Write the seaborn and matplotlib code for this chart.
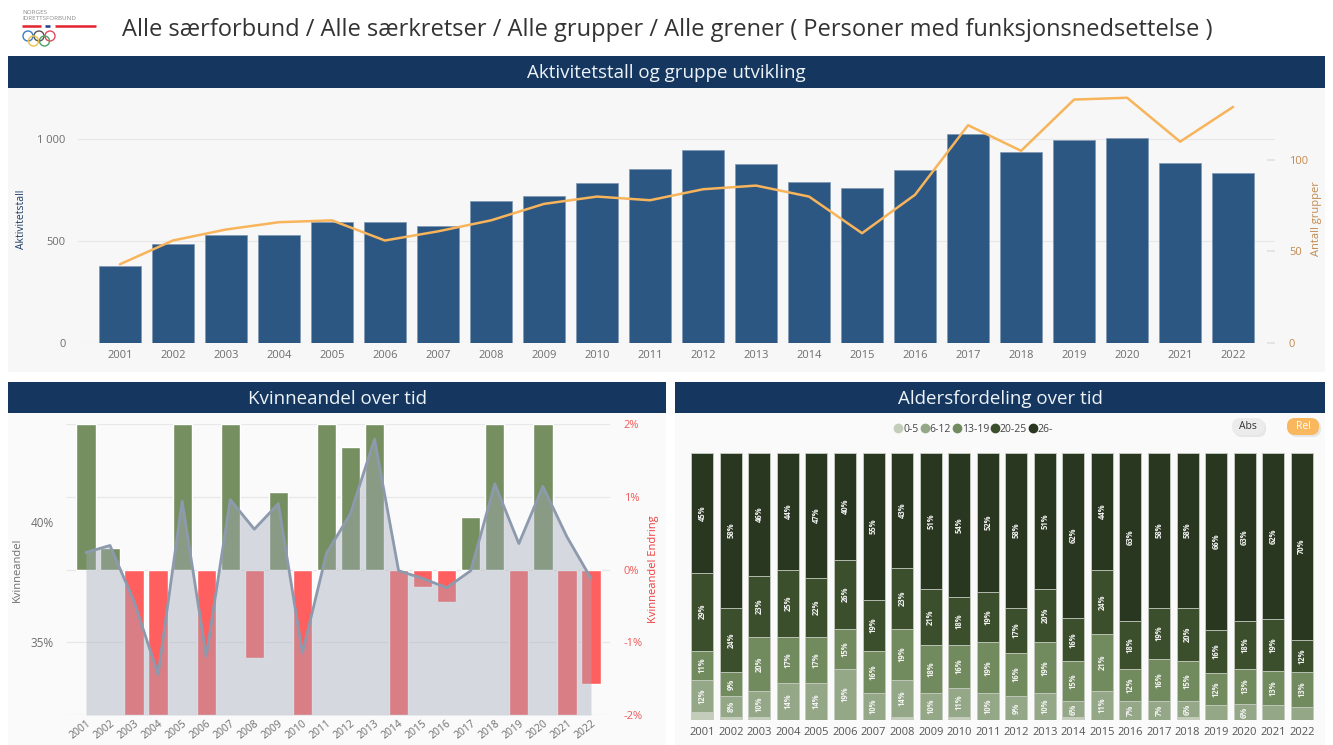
import numpy as np
import matplotlib
matplotlib.use("Agg")
import matplotlib.pyplot as plt
from matplotlib.patches import Rectangle, FancyBboxPatch, Circle
from matplotlib.lines import Line2D
import seaborn as sns

W, H = 1333, 745

# ------------------------------------------------------------------
# Data
# ------------------------------------------------------------------
years = [str(y) for y in range(2001, 2023)]

aktivitet = [380, 484, 528, 528, 592, 592, 574, 695, 721, 783, 852,
             946, 876, 791, 759, 847, 1024, 935, 995, 1007, 881, 832]
grupper = [43, 56, 62, 66, 67, 56, 61, 67, 76, 80, 78,
           84, 86, 80, 60, 81, 119, 105, 133, 134, 110, 129]

kvinneandel = [38.73, 39.02, 36.69, 33.65, 40.87, 34.41, 40.93, 39.70, 40.76, 34.54, 38.69,
               40.35, 43.45, 37.97, 37.65, 37.26, 37.97, 41.59, 39.10, 41.48, 39.38, 37.65]
endring = [2.0, 0.29, -2.0, -2.0, 2.0, -2.0, 2.0, -1.21, 1.06, -2.0, 2.0,
           1.68, 2.0, -2.0, -0.24, -0.44, 0.72, 2.0, -2.0, 2.0, -2.0, -1.57]

age_groups = ["0-5", "6-12", "13-19", "20-25", "26-"]
age_0_5 = [3, 1, 1, 0, 0, 0, 0, 1, 0, 1, 0, 0, 0, 1, 0, 0, 0, 1, 0, 0, 0, 0]
age_6_12 = [12, 8, 10, 14, 14, 19, 10, 14, 10, 11, 10, 9, 10, 6, 11, 7, 7, 6, 5.6, 6, 5.4, 5]
age_13_19 = [11, 9, 20, 17, 17, 15, 16, 19, 18, 16, 19, 16, 19, 15, 21, 12, 16, 15, 12, 13, 13, 13]
age_20_25 = [29, 24, 23, 25, 22, 26, 19, 23, 21, 18, 19, 17, 20, 16, 24, 18, 19, 20, 16, 18, 19, 12]
age_26 = [45, 58, 46, 44, 47, 40, 55, 43, 51, 54, 52, 58, 51, 62, 44, 63, 58, 58, 66, 63, 62, 70]
age_colors = ["#c3cdb9", "#94a887", "#728b5e", "#3b4f2c", "#2a3720"]

NAVY = "#15375f"
GRID = "#e8e8e8"
TICK = "#6e6e6e"

sns.set_theme(style="white")
plt.rcParams["font.family"] = ["Open Sans", "DejaVu Sans"]


def px_axes(fig, x0, y0, x1, y1):
    return fig.add_axes([x0 / W, 1 - y1 / H, (x1 - x0) / W, (y1 - y0) / H])


# ------------------------------------------------------------------
# Page frame: backgrounds, headers, logo, title
# ------------------------------------------------------------------
def draw_frame(fig):
    bg = fig.add_axes([0, 0, 1, 1], zorder=-5)
    bg.set_xlim(0, W); bg.set_ylim(H, 0); bg.axis("off")

    # panel bodies
    bg.add_patch(Rectangle((8, 88), 1317, 284, color="#f7f7f7", lw=0))
    bg.add_patch(Rectangle((8, 413), 658, 332, color="#fafafa", lw=0))
    bg.add_patch(Rectangle((675, 413), 650, 332, color="#fafafa", lw=0))

    # headers
    for (x, y, w, h, txt) in [(8, 56, 1317, 32, "Aktivitetstall og gruppe utvikling"),
                              (8, 382, 658, 31, "Kvinneandel over tid"),
                              (675, 382, 650, 31, "Aldersfordeling over tid")]:
        bg.add_patch(Rectangle((x, y), w, h, color=NAVY, lw=0))
        bg.text(x + w / 2, y + h / 2 + 1, txt, color="#eef3f8", fontsize=13.5,
                ha="center", va="center")

    # title
    bg.text(122, 30, "Alle særforbund / Alle særkretser / Alle grupper / Alle grener "
            "( Personer med funksjonsnedsettelse )", fontsize=17, color="#333333",
            ha="left", va="center")

    # logo
    bg.text(22, 13, "NORGES", fontsize=4.5, color="#8a8a8a", va="center")
    bg.text(22, 19, "IDRETTSFORBUND", fontsize=4.5, color="#8a8a8a", va="center")
    bg.plot([22, 41], [26, 26], color="#e3232f", lw=1.8, solid_capstyle="butt")
    bg.plot([45, 50], [26, 26], color="#1e3f8a", lw=1.8, solid_capstyle="butt")
    bg.plot([55, 96], [26, 26], color="#e3232f", lw=1.8, solid_capstyle="butt")
    for (cx, cy, c) in [(28, 36, "#3b7ec8"), (39, 36, "#555555"), (50, 36, "#e24a5c"),
                        (33.5, 41, "#f1c14c"), (44.5, 41, "#4aa36a")]:
        bg.add_patch(Circle((cx, cy), 5, fill=False, ec=c, lw=1.0))

    # Abs / Rel buttons
    bg.add_patch(FancyBboxPatch((1234, 420), 32, 17, boxstyle="round,pad=0,rounding_size=8",
                                fc="#d9d9d9", ec="none", alpha=0.6))
    bg.add_patch(FancyBboxPatch((1232, 418), 32, 17, boxstyle="round,pad=0,rounding_size=8",
                                fc="#ececec", ec="none"))
    bg.text(1248, 426.5, "Abs", fontsize=7.5, color="#333333", ha="center", va="center")
    bg.add_patch(FancyBboxPatch((1289, 420), 32, 17, boxstyle="round,pad=0,rounding_size=8",
                                fc="#d9d9d9", ec="none", alpha=0.6))
    bg.add_patch(FancyBboxPatch((1287, 418), 32, 17, boxstyle="round,pad=0,rounding_size=8",
                                fc="#f9b75e", ec="none"))
    bg.text(1303, 426.5, "Rel", fontsize=7.5, color="white", ha="center", va="center")


# ------------------------------------------------------------------
# Top: activity bars + number of groups line
# ------------------------------------------------------------------
def draw_activity(fig):
    ax = px_axes(fig, 78, 95, 1275, 343)
    ax.set_facecolor("none")
    sns.barplot(x=years, y=aktivitet, color="#2c5783", width=0.8, saturation=1,
                edgecolor="#7f97b3", linewidth=0.5, ax=ax)
    ax.set_xlim(-0.79, 21.79)
    ax.set_ylim(0, 1216)
    ax.set_yticks([0, 500, 1000])
    ax.set_yticklabels(["0", "500", "1 000"])
    ax.yaxis.grid(True, color=GRID, lw=0.9)
    ax.set_axisbelow(True)
    sns.despine(ax=ax, left=True, bottom=True)
    ax.tick_params(axis="both", length=0, labelsize=8, labelcolor=TICK)
    ax.tick_params(axis="y", pad=9)
    ax.tick_params(axis="x", pad=5)
    ax.set_xlabel("")
    ax.set_ylabel("Aktivitetstall", fontsize=7.5, color="#1f3b63")
    ax.yaxis.set_label_coords(-0.043, 0.5)

    ax2 = ax.twinx()
    sns.lineplot(x=np.arange(len(years)), y=grupper, color="#f7b45a", lw=1.8, ax=ax2)
    ax2.set_ylim(0, 135.5)
    ax2.set_yticks([0, 50, 100])
    ax2.grid(False)
    for s in ax2.spines.values():
        s.set_visible(False)
    ax2.tick_params(axis="y", direction="in", length=6, color="#e2e2e2",
                    labelsize=8, labelcolor="#c08a4f", pad=10)
    ax2.set_ylabel("Antall grupper", fontsize=8, color="#c08a4f")
    ax2.yaxis.set_label_coords(1.03, 0.5)


# ------------------------------------------------------------------
# Bottom left: share of women and yearly change
# ------------------------------------------------------------------
def draw_women(fig):
    axb = px_axes(fig, 66, 424, 610, 715)
    axb.set_facecolor("none")
    sign = ["pos" if v > 0 else "neg" for v in endring]
    sns.barplot(x=years, y=endring, hue=sign, palette={"pos": "#768f60", "neg": "#ff5f5f"},
                dodge=False, legend=False, width=0.8, saturation=1, ax=axb)
    axa = axb.twinx()

    axb.set_xlim(-0.83, 21.79)
    axb.set_ylim(-2, 2)
    axb.yaxis.tick_right()
    axb.yaxis.set_label_position("right")
    axb.set_yticks([-2, -1, 0, 1, 2])
    axb.set_yticklabels(["-2%", "-1%", "0%", "1%", "2%"])
    axb.yaxis.grid(True, color=GRID, lw=0.9)
    axb.set_axisbelow(True)
    for s in axb.spines.values():
        s.set_visible(False)
    axb.tick_params(axis="y", length=0, labelsize=8, labelcolor="#f05a5a", pad=10)
    axb.tick_params(axis="x", length=0, labelsize=7.5, labelcolor=TICK, pad=2)
    for lab in axb.get_xticklabels():
        lab.set_rotation(38)
        lab.set_ha("right")
        lab.set_rotation_mode("anchor")
    axb.set_xlabel("")
    axb.set_ylabel("Kvinneandel Endring", fontsize=8, color="#ee3b3b")
    axb.yaxis.set_label_coords(1.07, 0.5)

    x = np.arange(len(years))
    axa.fill_between(x, kvinneandel, 31.96, color="#a4abb9", alpha=0.42, lw=0)
    sns.lineplot(x=x, y=kvinneandel, color="#8d9aae", lw=2, ax=axa)
    axa.set_ylim(31.96, 44.08)
    axa.yaxis.tick_left()
    axa.yaxis.set_label_position("left")
    axa.set_yticks([35, 40])
    axa.set_yticklabels(["35%", "40%"])
    axa.grid(False)
    for s in axa.spines.values():
        s.set_visible(False)
    axa.tick_params(axis="y", length=0, labelsize=8.5, labelcolor=TICK, pad=9)
    axa.set_ylabel("Kvinneandel", fontsize=8, color=TICK)
    axa.yaxis.set_label_coords(-0.08, 0.5)


# ------------------------------------------------------------------
# Bottom right: age distribution (100% stacked)
# ------------------------------------------------------------------
def draw_ages(fig):
    ax = px_axes(fig, 688, 452.7, 1316, 720)
    ax.set_facecolor("none")
    raw = np.array([age_0_5, age_6_12, age_13_19, age_20_25, age_26], dtype=float)
    shares = raw / raw.sum(axis=0) * 100
    cum = np.cumsum(shares, axis=0)

    # draw from the top segment down so each shorter bar sits in front
    for i in range(len(age_groups) - 1, -1, -1):
        sns.barplot(x=years, y=cum[i], color=age_colors[i], width=0.77, saturation=1,
                    edgecolor="#c9cec4", linewidth=0.6, ax=ax)

    for j in range(len(years)):
        for i in range(len(age_groups)):
            if raw[i, j] >= 5.9:
                ax.text(j, cum[i, j] - shares[i, j] / 2, f"{raw[i, j]:.0f}%",
                        rotation=90, ha="center", va="center", fontsize=5.5,
                        fontweight="bold", color="#f2f2f2")

    ax.set_xlim(-0.5, 21.5)
    ax.set_ylim(0, 100)
    ax.set_yticks([])
    ax.set_xlabel(""); ax.set_ylabel("")
    for s in ax.spines.values():
        s.set_visible(False)
    ax.tick_params(axis="x", length=0, labelsize=8, labelcolor="#555555", pad=5)

    handles = [Line2D([], [], marker="o", ls="", color=c, markersize=6) for c in age_colors]
    fig.legend(handles, age_groups, loc="center", bbox_to_anchor=(974 / W, 1 - 429 / H),
               ncol=5, frameon=False, fontsize=7.5, handlelength=0.7, handletextpad=0.1,
               columnspacing=0.25, labelcolor="#444444")


fig = plt.figure(figsize=(W / 100, H / 100), dpi=100)
fig.patch.set_facecolor("white")
draw_frame(fig)
draw_activity(fig)
draw_women(fig)
draw_ages(fig)
fig.savefig("out.png", dpi=100, facecolor="white")
